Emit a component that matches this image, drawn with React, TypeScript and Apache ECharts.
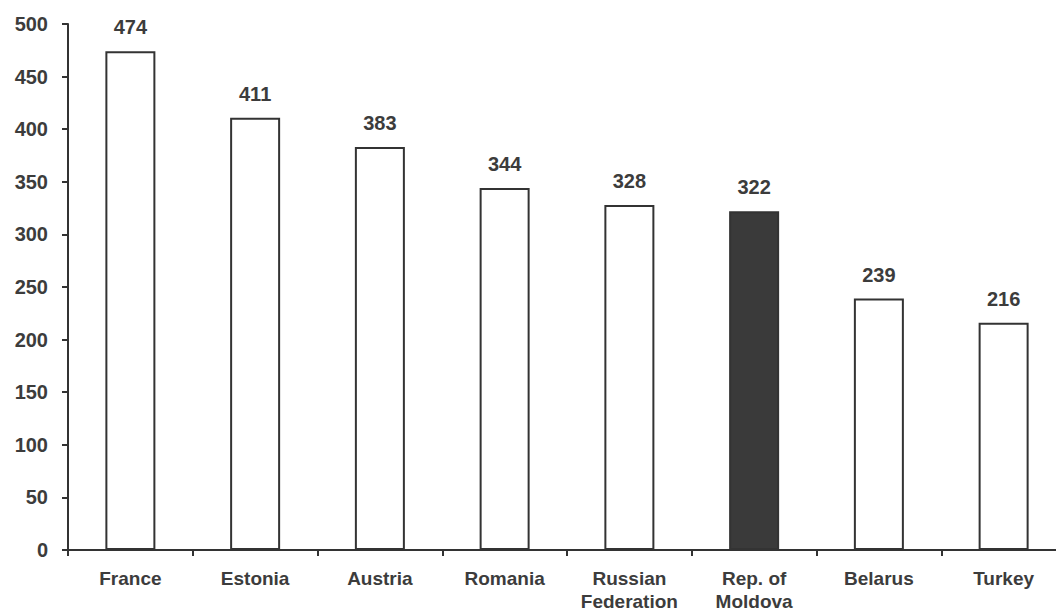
import React, { useEffect, useRef } from "react";
import * as echarts from "echarts";

const categories = ["France", "Estonia", "Austria", "Romania", "Russian\nFederation", "Rep. of\nMoldova", "Belarus", "Turkey"];
const values = [474, 411, 383, 344, 328, 322, 239, 216];
const highlightIndex = 5;
const yTicks = { min: 0, max: 500, interval: 50 };

export default function App() {
  const ref = useRef<HTMLDivElement>(null);
  useEffect(() => {
    document.body.style.margin = "0";
    const chart = echarts.init(ref.current!, null, { renderer: "svg" });
    const font = "'Liberation Sans', Arial, sans-serif";
    const textColor = "#3c3c3c";
    chart.setOption({
      animation: false,
      backgroundColor: "#ffffff",
      grid: { left: 68, right: -10, top: 24, bottom: 64, containLabel: false, outerBoundsMode: "none" },
      xAxis: {
        type: "category",
        data: categories,
        boundaryGap: true,
        axisLine: { lineStyle: { color: "#333", width: 2 } },
        axisTick: { show: true, length: 6, lineStyle: { color: "#333", width: 2 } },
        axisLabel: {
          color: textColor,
          fontFamily: font,
          fontWeight: "bold",
          fontSize: 19,
          margin: 17,
          lineHeight: 23,
          interval: 0,
        },
        splitLine: { show: false },
      },
      yAxis: {
        type: "value",
        min: yTicks.min,
        max: yTicks.max,
        interval: yTicks.interval,
        axisLine: { show: true, lineStyle: { color: "#333", width: 2 } },
        axisTick: { show: true, length: 6, lineStyle: { color: "#333", width: 2 } },
        axisLabel: { color: textColor, fontFamily: font, fontWeight: "bold", fontSize: 20, margin: 20 },
        splitLine: { show: false },
      },
      series: [
        {
          type: "bar",
          barWidth: 50,
          data: values.map((v, i) => ({
            value: v,
            itemStyle:
              i === highlightIndex
                ? { color: "#3a3a3a", borderColor: "#333", borderWidth: 2 }
                : { color: "#ffffff", borderColor: "#333", borderWidth: 2 },
          })),
          label: {
            show: true,
            position: "top",
            distance: 14,
            color: textColor,
            fontFamily: font,
            fontWeight: "bold",
            fontSize: 20,
          },
        },
      ],
    });
    return () => chart.dispose();
  }, []);
  return <div ref={ref} style={{ position: "fixed", left: 0, top: 0, width: 1056, height: 614 }} />;
}
